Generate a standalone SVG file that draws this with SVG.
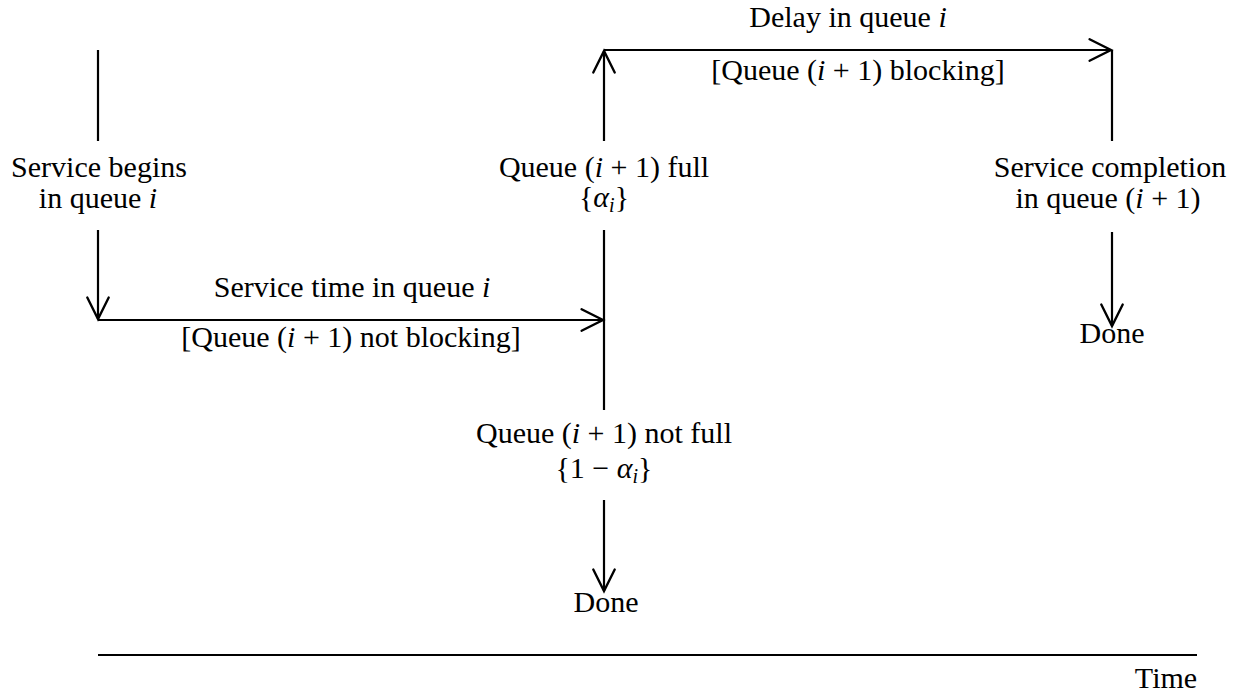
<svg xmlns="http://www.w3.org/2000/svg" width="1250" height="697" viewBox="0 0 1250 697">
<defs>
<marker id="ah" markerUnits="userSpaceOnUse" markerWidth="30" markerHeight="30" viewBox="-24 -14 28 28" refX="0" refY="0" orient="auto" overflow="visible">
<path d="M-20,-10 L0,0 L-20,10" fill="none" stroke="#000" stroke-width="2.2" stroke-linecap="round" stroke-linejoin="miter"/>
</marker>
</defs>
<style>
text{font-family:"Liberation Serif","DejaVu Serif",serif;font-size:30px;fill:#000;text-anchor:middle}
.m{font-style:italic}
.s{font-size:20px;font-style:italic}
.c path{fill:none;stroke:#000;stroke-width:2.2}
</style>
<rect width="1250" height="697" fill="#fff"/>
<g id="connectors" class="c">
<path d="M98,50 V141"/>
<path d="M98,230 V319" marker-end="url(#ah)"/>
<path d="M98,320 H603" marker-end="url(#ah)"/>
<path d="M604,141 V51" marker-end="url(#ah)"/>
<path d="M604,50 H1111" marker-end="url(#ah)"/>
<path d="M604,230 V410"/>
<path d="M604,500 V591" marker-end="url(#ah)"/>
<path d="M1112,50 V141"/>
<path d="M1112,232 V326" marker-end="url(#ah)"/>
<path d="M98,655 H1197"/>
</g>
<g id="service-begins">
<text x="99" y="177">Service begins</text>
<text x="98" y="208">in queue <tspan class="m">i</tspan></text>
</g>
<g id="service-time-label">
<text x="352" y="297">Service time in queue <tspan class="m">i</tspan></text>
<text x="351" y="347">[Queue (<tspan class="m">i</tspan> + 1) not blocking]</text>
</g>
<g id="queue-full">
<text x="604" y="177">Queue (<tspan class="m">i</tspan> + 1) full</text>
<text x="604" y="207">{<tspan class="m">α</tspan><tspan class="s" dy="5">i</tspan><tspan dy="-5">}</tspan></text>
</g>
<g id="queue-not-full">
<text x="604" y="443">Queue (<tspan class="m">i</tspan> + 1) not full</text>
<text x="604" y="478">{1 − <tspan class="m">α</tspan><tspan class="s" dy="5">i</tspan><tspan dy="-5">}</tspan></text>
</g>
<g id="done-middle">
<text x="606" y="612">Done</text>
</g>
<g id="delay-label">
<text x="848" y="27">Delay in queue <tspan class="m">i</tspan></text>
<text x="858" y="80">[Queue (<tspan class="m">i</tspan> + 1) blocking]</text>
</g>
<g id="service-completion">
<text x="1110" y="177">Service completion</text>
<text x="1108" y="208">in queue (<tspan class="m">i</tspan> + 1)</text>
</g>
<g id="done-right">
<text x="1112" y="343">Done</text>
</g>
<g id="time-axis">
<text x="1166" y="688">Time</text>
</g>
</svg>
